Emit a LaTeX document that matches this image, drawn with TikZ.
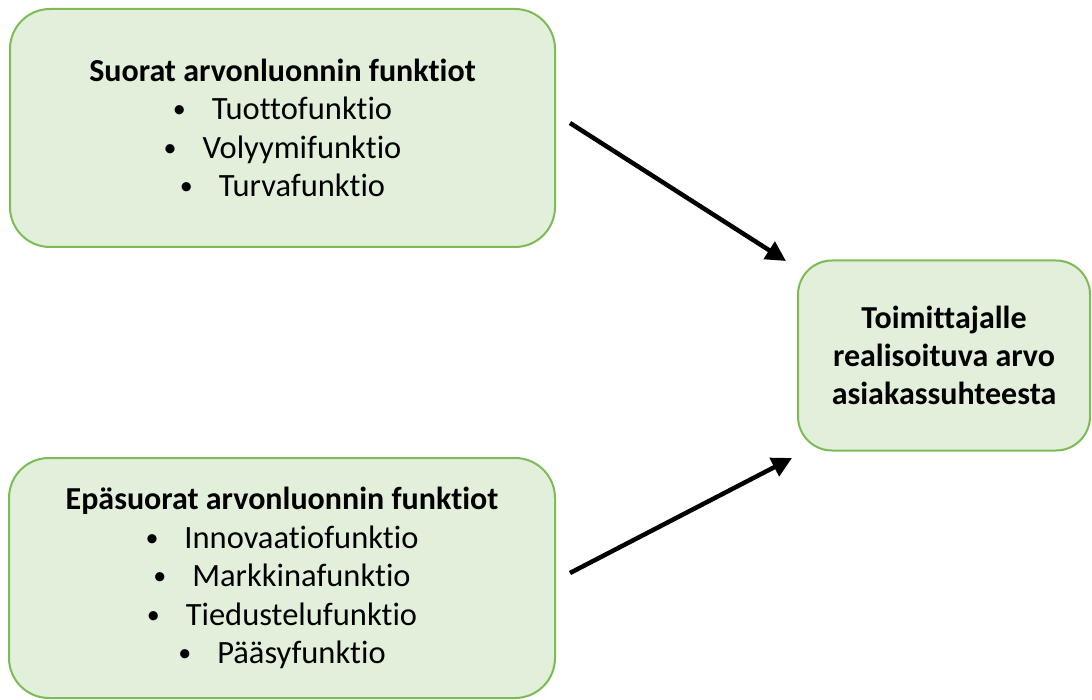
\documentclass[tikz,border=0pt]{standalone}
\usepackage{fontspec}
\setmainfont{Carlito}[Ligatures={NoCommon}]
\usetikzlibrary{arrows.meta}
\definecolor{boxfill}{HTML}{E2EFDA}
\definecolor{boxline}{HTML}{7DBB57}
\tikzset{
  valuebox/.style={draw=boxline, line width=2pt, fill=boxfill, rounded corners=40pt,
    align=center, inner sep=0pt, font=\fontsize{32}{38.5}\selectfont},
  flow/.style={line width=4.5pt, -{Triangle[length=20pt,width=20pt]}}
}
\newcommand{\itm}[1]{{\fontsize{32.5}{38.5}\selectfont
  \raisebox{2pt}{\fontsize{26}{26}\selectfont\textbullet}\hspace{26pt}#1}}
\begin{document}
\begin{tikzpicture}[x=1pt,y=-1pt]
  \useasboundingbox (0,0) rectangle (1092,700);
  % direct value-creation functions
  \node[valuebox, minimum width=545pt, minimum height=238pt] (direct) at (282.5,128)
    {\textbf{Suorat arvonluonnin funktiot}\\ \itm{Tuottofunktio}\\ \itm{Volyymifunktio}\\ \itm{Turvafunktio}};
  % indirect value-creation functions
  \node[valuebox, minimum width=546pt, minimum height=240pt] (indirect) at (282,578)
    {\textbf{Epäsuorat arvonluonnin funktiot}\\ \itm{Innovaatiofunktio}\\ \itm{Markkinafunktio}\\ \itm{Tiedustelufunktio}\\ \itm{Pääsyfunktio}};
  % realised value for the supplier
  \node[valuebox, rounded corners=34pt, minimum width=292pt, minimum height=190pt, font=\fontsize{32}{38}\selectfont\bfseries] (value) at (944,355.5)
    {Toimittajalle\\ realisoituva arvo\\ asiakassuhteesta};
  % connector end points
  \coordinate (d1) at (570,123);
  \coordinate (d2) at (786,261);
  \coordinate (i1) at (570,573);
  \coordinate (i2) at (792,458);
  \draw[flow] (d1) -- (d2);
  \draw[flow] (i1) -- (i2);
\end{tikzpicture}
\end{document}
